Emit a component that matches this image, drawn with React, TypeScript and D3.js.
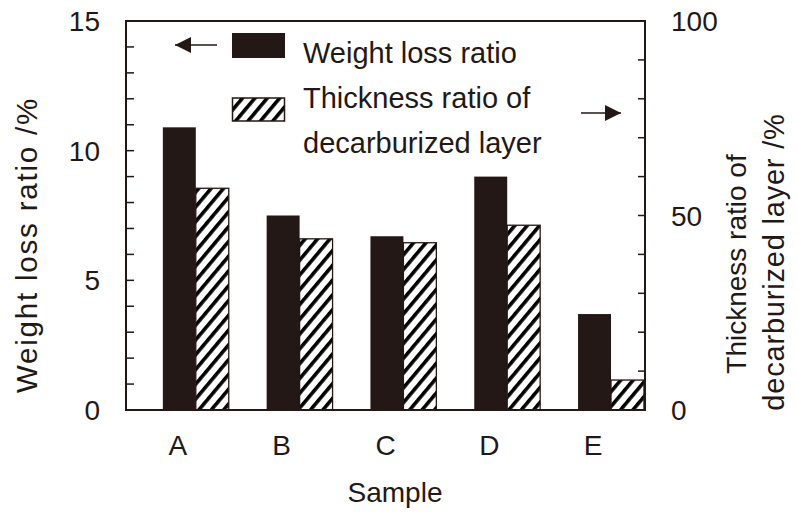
import React, { useEffect, useRef } from 'react';
import * as d3 from 'd3';

const samples = ['A', 'B', 'C', 'D', 'E'];
const weightLoss = [10.9, 7.5, 6.7, 9.0, 3.7];
const thicknessRatio = [57, 44, 43, 47.5, 7.7];
const leftTicks = [0, 5, 10, 15];
const rightTicks = [0, 50, 100];

const INK = '#231815';
const FONT = '"Liberation Sans", Arial, Helvetica, sans-serif';

export default function App() {
  const ref = useRef<SVGSVGElement>(null);

  useEffect(() => {
    const width = 798;
    const height = 512;
    const margin = { top: 21, right: 153, bottom: 102, left: 126 };
    const chartW = width - margin.left - margin.right;
    const chartH = height - margin.top - margin.bottom;

    const svg = d3.select(ref.current);
    svg.selectAll('*').remove();

    // hatch pattern for the thickness bars
    const defs = svg.append('defs');
    const pat = defs.append('pattern')
      .attr('id', 'hatch')
      .attr('patternUnits', 'userSpaceOnUse')
      .attr('width', 9.5)
      .attr('height', 9.5)
      .attr('patternTransform', 'rotate(40)');
    pat.append('rect').attr('width', 9.5).attr('height', 9.5).attr('fill', '#fff');
    pat.append('rect').attr('x', 0).attr('width', 3.6).attr('height', 9.5).attr('fill', '#000');

    defs.append('marker')
      .attr('id', 'arrow')
      .attr('viewBox', '0 0 16 16')
      .attr('refX', 16).attr('refY', 8)
      .attr('markerWidth', 16).attr('markerHeight', 16)
      .attr('markerUnits', 'userSpaceOnUse')
      .attr('orient', 'auto')
      .append('path')
      .attr('d', 'M0,0 L16,8 L0,16 Z')
      .attr('fill', INK);

    const g = svg.append('g')
      .attr('transform', `translate(${margin.left},${margin.top})`);

    const x = d3.scaleBand().domain(samples).range([0, chartW]);
    const inner = d3.scaleBand()
      .domain(['w', 't'])
      .range([x.bandwidth() * 0.355, x.bandwidth() * 0.99]);
    const yL = d3.scaleLinear().domain([0, 15]).range([chartH, 0]);
    const yR = d3.scaleLinear().domain([0, 100]).range([chartH, 0]);

    // bars
    g.selectAll('rect.w')
      .data(samples)
      .enter()
      .append('rect')
      .attr('class', 'w')
      .attr('x', d => (x(d) as number) + (inner('w') as number))
      .attr('y', (d, i) => yL(weightLoss[i]))
      .attr('width', inner.bandwidth())
      .attr('height', (d, i) => chartH - yL(weightLoss[i]))
      .attr('fill', INK);

    g.selectAll('rect.t')
      .data(samples)
      .enter()
      .append('rect')
      .attr('class', 't')
      .attr('x', d => (x(d) as number) + (inner('t') as number))
      .attr('y', (d, i) => yR(thicknessRatio[i]))
      .attr('width', inner.bandwidth())
      .attr('height', (d, i) => chartH - yR(thicknessRatio[i]))
      .attr('fill', 'url(#hatch)')
      .attr('stroke', INK)
      .attr('stroke-width', 1.3);

    // frame
    g.append('rect')
      .attr('width', chartW)
      .attr('height', chartH)
      .attr('fill', 'none')
      .attr('stroke', INK)
      .attr('stroke-width', 2);

    // inward ticks
    g.selectAll('line.lt')
      .data(d3.range(1, 15))
      .enter()
      .append('line')
      .attr('x1', 0).attr('x2', 8)
      .attr('y1', d => yL(d)).attr('y2', d => yL(d))
      .attr('stroke', INK).attr('stroke-width', 1.5);

    g.selectAll('line.rt')
      .data(d3.range(10, 100, 10))
      .enter()
      .append('line')
      .attr('x1', chartW - 7).attr('x2', chartW)
      .attr('y1', d => yR(d)).attr('y2', d => yR(d))
      .attr('stroke', INK).attr('stroke-width', 1.5);

    const txt = (sel: any, size = 28) => sel
      .attr('font-family', FONT)
      .attr('font-size', size)
      .attr('fill', INK);

    // tick labels
    g.selectAll('text.lt')
      .data(leftTicks)
      .enter()
      .append('text')
      .call(txt)
      .attr('x', -26)
      .attr('y', d => yL(d))
      .attr('dy', '0.36em')
      .attr('text-anchor', 'end')
      .text(d => d);

    g.selectAll('text.rt')
      .data(rightTicks)
      .enter()
      .append('text')
      .call(txt)
      .attr('x', chartW + 26)
      .attr('y', d => yR(d))
      .attr('dy', '0.36em')
      .attr('text-anchor', 'start')
      .text(d => d);

    g.selectAll('text.cat')
      .data(samples)
      .enter()
      .append('text')
      .call(txt)
      .attr('x', d => (x(d) as number) + x.bandwidth() / 2)
      .attr('y', chartH + 45)
      .attr('text-anchor', 'middle')
      .text(d => d);

    // axis titles
    svg.append('text')
      .call(txt)
      .attr('x', 395)
      .attr('y', 502)
      .attr('text-anchor', 'middle')
      .text('Sample');

    svg.append('text')
      .call(txt, 29.5)
      .attr('letter-spacing', 1.8)
      .attr('transform', 'translate(37,245) rotate(-90)')
      .attr('text-anchor', 'middle')
      .text('Weight loss ratio /%');

    svg.append('text')
      .call(txt, 28)
      .attr('transform', 'translate(746,264) rotate(-90)')
      .attr('text-anchor', 'middle')
      .text('Thickness ratio of');

    svg.append('text')
      .call(txt, 29)
      .attr('letter-spacing', 0.8)
      .attr('transform', 'translate(784,262) rotate(-90)')
      .attr('text-anchor', 'middle')
      .text('decarburized layer /%');

    // legend
    svg.append('rect')
      .attr('x', 232).attr('y', 33)
      .attr('width', 53).attr('height', 25)
      .attr('fill', INK);
    svg.append('rect')
      .attr('x', 232.5).attr('y', 98)
      .attr('width', 52).attr('height', 23)
      .attr('fill', 'url(#hatch)')
      .attr('stroke', INK)
      .attr('stroke-width', 1.5);

    svg.append('text').call(txt, 29).attr('x', 303).attr('y', 63).text('Weight loss ratio');
    svg.append('text').call(txt, 29).attr('x', 303).attr('y', 108).text('Thickness ratio of');
    svg.append('text').call(txt, 29).attr('x', 303).attr('y', 153).text('decarburized layer');

    // direction arrows
    svg.append('line')
      .attr('x1', 217).attr('y1', 45).attr('x2', 175).attr('y2', 45)
      .attr('stroke', INK).attr('stroke-width', 1.5)
      .attr('marker-end', 'url(#arrow)');
    svg.append('line')
      .attr('x1', 581).attr('y1', 113).attr('x2', 621).attr('y2', 113)
      .attr('stroke', INK).attr('stroke-width', 1.5)
      .attr('marker-end', 'url(#arrow)');
  }, []);

  return (
    <svg
      ref={ref}
      width={798}
      height={512}
      style={{ position: 'absolute', left: 0, top: 0, background: '#fff' }}
    />
  );
}
